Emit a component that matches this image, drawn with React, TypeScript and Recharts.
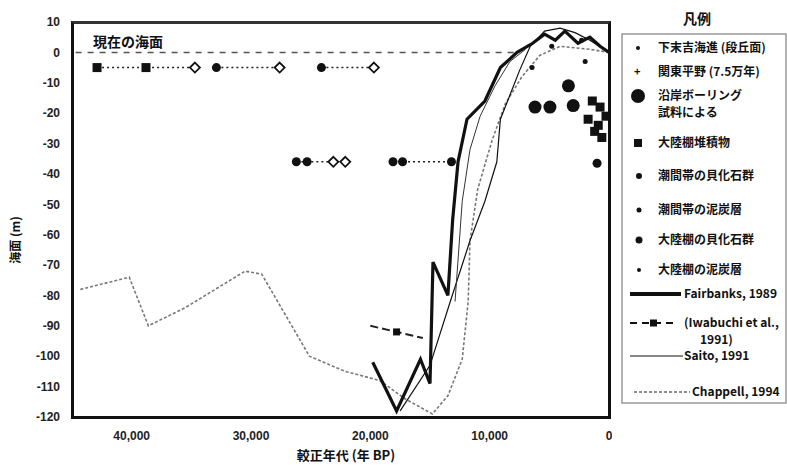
import React from 'react';
import { ComposedChart, Line, Scatter, XAxis, YAxis } from 'recharts';

type Pt = { age: number; m: number };

const AGE_TICKS = [40000, 30000, 20000, 10000, 0];
const LEVEL_TICKS = [10, 0, -10, -20, -30, -40, -50, -60, -70, -80, -90, -100, -110, -120];

// present sea level (dashed reference)
const presentSea: Pt[] = [{ age: 44700, m: 0 }, { age: 7500, m: 0 }];

// Chappell, 1994 (gray dotted)
const chappell: Pt[] = [
  { age: 44300, m: -78 }, { age: 40200, m: -74 }, { age: 38600, m: -90 }, { age: 35500, m: -84 },
  { age: 30500, m: -72 }, { age: 29100, m: -73 }, { age: 25100, m: -100 }, { age: 22100, m: -105 },
  { age: 19200, m: -108 }, { age: 17100, m: -114 }, { age: 14800, m: -119 }, { age: 13500, m: -113 },
  { age: 12300, m: -101 }, { age: 11800, m: -82 }, { age: 11650, m: -62 }, { age: 11000, m: -45 },
  { age: 9800, m: -29 }, { age: 8700, m: -17 }, { age: 7300, m: -8 }, { age: 5800, m: -1 },
  { age: 4100, m: 2 }, { age: 1600, m: 1 }, { age: 0, m: 0 },
];

// Fairbanks, 1989 (thick black)
const fairbanks: Pt[] = [
  { age: 19800, m: -102 }, { age: 17800, m: -118 }, { age: 15800, m: -101 }, { age: 15000, m: -109 },
  { age: 14750, m: -69 }, { age: 13500, m: -80 }, { age: 13100, m: -55 }, { age: 12650, m: -36 },
  { age: 11900, m: -22 }, { age: 10400, m: -16 }, { age: 9100, m: -5 }, { age: 7700, m: 0 },
  { age: 6400, m: 3 }, { age: 5400, m: 6 }, { age: 4500, m: 4 }, { age: 3700, m: 7 },
  { age: 2600, m: 3 }, { age: 1600, m: 5 }, { age: 750, m: 2 }, { age: 0, m: 0 },
];

// Iwabuchi et al., 1991 (dash with squares)
const iwabuchi: Pt[] = [{ age: 20000, m: -90 }, { age: 15600, m: -94 }];
const iwabuchiMarks: Pt[] = [{ age: 17800, m: -92 }];

// Saito, 1991 (thin solid) and its upper envelope
const saito: Pt[] = [
  { age: 17500, m: -118 }, { age: 15000, m: -103 }, { age: 13300, m: -82 }, { age: 11650, m: -62 },
  { age: 10400, m: -49 }, { age: 9400, m: -36 }, { age: 9100, m: -22 }, { age: 8300, m: -14 },
  { age: 7500, m: -6 }, { age: 6600, m: 2 }, { age: 5400, m: 7 }, { age: 4100, m: 8 },
  { age: 2850, m: 6.5 }, { age: 1600, m: 4 }, { age: 0, m: 0 },
];
const saitoEnvelope: Pt[] = [
  { age: 12900, m: -82 }, { age: 12300, m: -49 }, { age: 11650, m: -32 }, { age: 10800, m: -21 },
  { age: 9550, m: -11 }, { age: 8300, m: -3 }, { age: 7000, m: 1 },
];

// marker rows with dotted ranges
const rowSquares: Pt[] = [{ age: 42900, m: -5 }, { age: 38800, m: -5 }];
const rowDiamonds: Pt[] = [
  { age: 34700, m: -5 }, { age: 27600, m: -5 }, { age: 19700, m: -5 },
  { age: 23100, m: -36 }, { age: 22100, m: -36 },
];
const rowDots: Pt[] = [
  { age: 32900, m: -5 }, { age: 24100, m: -5 },
  { age: 26200, m: -36 }, { age: 25300, m: -36 }, { age: 18100, m: -36 }, { age: 17300, m: -36 },
  { age: 13200, m: -36 }, { age: 1000, m: -36.5 },
];
const rangeA: Pt[] = [{ age: 42900, m: -5 }, { age: 34700, m: -5 }];
const rangeB: Pt[] = [{ age: 32900, m: -5 }, { age: 27600, m: -5 }];
const rangeC: Pt[] = [{ age: 24100, m: -5 }, { age: 19700, m: -5 }];
const rangeD: Pt[] = [{ age: 26200, m: -36 }, { age: 22100, m: -36 }];
const rangeE: Pt[] = [{ age: 18100, m: -36 }, { age: 13200, m: -36 }];

// boring samples (big dots) and shelf sediments (squares)
const boringDots: Pt[] = [
  { age: 6200, m: -18 }, { age: 4950, m: -18 }, { age: 3400, m: -11 }, { age: 3000, m: -17.5 },
];
const shelfSquares: Pt[] = [
  { age: 1400, m: -16 }, { age: 750, m: -18 }, { age: 1750, m: -22 }, { age: 900, m: -24 },
  { age: 250, m: -21 }, { age: 600, m: -28 }, { age: 1200, m: -26 },
];
const smallDots: Pt[] = [{ age: 6450, m: -5 }, { age: 2000, m: -3 }, { age: 4800, m: 2 }, { age: 2300, m: 4 }];

const LEGEND_TITLE = '凡例';
const LEGEND_MARKERS = [
  ['下末吉海進 (段丘面)'],
  ['関東平野 (7.5万年)'],
  ['沿岸ボーリング', '試料による'],
  ['大陸棚堆積物'],
  ['潮間帯の貝化石群'],
  ['潮間帯の泥炭層'],
  ['大陸棚の貝化石群'],
  ['大陸棚の泥炭層'],
];
const LEGEND_LINES = [
  ['Fairbanks, 1989'],
  ['(Iwabuchi et al.,', '1991)'],
  ['Saito, 1991'],
  ['Chappell, 1994'],
];

const NOTE = '現在の海面';
const X_TITLE = '較正年代 (年 BP)';
const Y_TITLE = '海面 (m)';

const INK = '#111';

const square = (s: number) => (p: any) => (
  <rect x={p.cx - s / 2} y={p.cy - s / 2} width={s} height={s} fill={INK} />
);
const dot = (r: number) => (p: any) => <circle cx={p.cx} cy={p.cy} r={r} fill={INK} />;
const diamond = (p: any) => (
  <polygon
    points={`${p.cx},${p.cy - 5} ${p.cx + 5},${p.cy} ${p.cx},${p.cy + 5} ${p.cx - 5},${p.cy}`}
    fill="#fff"
    stroke={INK}
    strokeWidth={1.8}
  />
);

const fmt = (v: number) => v.toLocaleString('en-US');

function Overlay() {
  const markerY = [48, 72, 96, 143, 176, 210, 240, 270];
  const lineY = [294, 323, 356, 392];
  const txt = { fontFamily: '"Noto Sans CJK JP", sans-serif', fontSize: 12, fontWeight: 700, fill: INK };
  const markers = [
    <circle cx={638} cy={48} r={2} fill={INK} />,
    <text x={634} y={76} style={{ ...txt, fontSize: 11 }}>+</text>,
    <circle cx={638} cy={96} r={7} fill={INK} />,
    <rect x={634} y={139} width={8} height={8} fill={INK} />,
    <circle cx={639} cy={176} r={3} fill={INK} />,
    <circle cx={639} cy={210} r={2.5} fill={INK} />,
    <circle cx={639} cy={240} r={3.5} fill={INK} />,
    <circle cx={639} cy={270} r={2} fill={INK} />,
  ];
  return (
    <svg width={787} height={465} style={{ position: 'absolute', left: 0, top: 0, pointerEvents: 'none' }}>
      <rect x={622} y={34} width={164} height={369} fill="none" stroke="#999" strokeWidth={1.5} />
      <text x={697} y={24} textAnchor="middle" style={{ ...txt, fontSize: 14 }}>{LEGEND_TITLE}</text>
      {LEGEND_MARKERS.map((lines, i) => (
        <g key={i}>
          {markers[i]}
          {lines.map((t, j) => (
            <text key={j} x={658} y={markerY[i] + 4 + j * 17} style={txt}>{t}</text>
          ))}
        </g>
      ))}
      <line x1={630} y1={lineY[0]} x2={681} y2={lineY[0]} stroke={INK} strokeWidth={4} />
      <line x1={630} y1={lineY[1]} x2={676} y2={lineY[1]} stroke={INK} strokeWidth={2} strokeDasharray="7 5" />
      <rect x={650} y={lineY[1] - 3.5} width={7} height={7} fill={INK} />
      <line x1={630} y1={lineY[2]} x2={683} y2={lineY[2]} stroke={INK} strokeWidth={1.2} />
      <line x1={634} y1={lineY[3]} x2={690} y2={lineY[3]} stroke="#666" strokeWidth={1.5} strokeDasharray="3 2" />
      {LEGEND_LINES.map((lines, i) => (
        <g key={i}>
          {lines.map((t, j) => (
            <text key={j} x={j === 0 ? (i === 3 ? 692 : 684) : 700} y={lineY[i] + 4 + j * 17} style={txt}>{t}</text>
          ))}
        </g>
      ))}
      <text x={93} y={47} style={{ ...txt, fontSize: 14 }}>{NOTE}</text>
      <text x={346} y={460} textAnchor="middle" style={{ ...txt, fontSize: 13 }}>{X_TITLE}</text>
      <text x={20} y={240} textAnchor="middle" transform="rotate(-90 20 240)" style={{ ...txt, fontSize: 12 }}>{Y_TITLE}</text>
    </svg>
  );
}

export default function App() {
  const tickStyle = { fontFamily: '"Liberation Sans", Arial, sans-serif', fontSize: 12, fontWeight: 700, fill: '#222' };
  return (
    <div style={{ position: 'absolute', left: 0, top: 0, width: 787, height: 465, background: '#fff' }}>
      <ComposedChart width={612} height={465} margin={{ top: 22, right: 3, left: 0, bottom: 18 }}>
        <XAxis
          dataKey="age"
          type="number"
          reversed
          domain={[0, 45000]}
          ticks={AGE_TICKS}
          tickFormatter={fmt}
          height={30}
          axisLine={false}
          tickLine={false}
          tickMargin={8}
          tick={tickStyle}
        />
        <YAxis
          dataKey="m"
          type="number"
          domain={[-120, 10]}
          ticks={LEVEL_TICKS}
          width={72}
          axisLine={false}
          tickLine={false}
          tickMargin={6}
          tick={tickStyle}
          interval={0}
        />
        <Line data={presentSea} dataKey="m" stroke="#555" strokeWidth={1.5} strokeDasharray="6 6" dot={false} isAnimationActive={false} />
        <Line data={chappell} dataKey="m" stroke="#777" strokeWidth={1.6} strokeDasharray="3 2" dot={false} isAnimationActive={false} />
        <Line data={saito} dataKey="m" stroke={INK} strokeWidth={1.2} dot={false} isAnimationActive={false} />
        <Line data={saitoEnvelope} dataKey="m" stroke="#333" strokeWidth={1} dot={false} isAnimationActive={false} />
        <Line data={iwabuchi} dataKey="m" stroke="#222" strokeWidth={2} strokeDasharray="8 4" dot={false} isAnimationActive={false} />
        <Line data={fairbanks} dataKey="m" stroke={INK} strokeWidth={3.2} dot={false} isAnimationActive={false} />
        {[rangeA, rangeB, rangeC, rangeD, rangeE].map((r, i) => (
          <Line key={i} data={r} dataKey="m" stroke="#222" strokeWidth={1.5} strokeDasharray="2 3" dot={false} isAnimationActive={false} />
        ))}
        <Scatter data={iwabuchiMarks} dataKey="m" shape={square(7)} isAnimationActive={false} />
        <Scatter data={rowSquares} dataKey="m" shape={square(9)} isAnimationActive={false} />
        <Scatter data={rowDots} dataKey="m" shape={dot(4.5)} isAnimationActive={false} />
        <Scatter data={rowDiamonds} dataKey="m" shape={diamond} isAnimationActive={false} />
        <Scatter data={boringDots} dataKey="m" shape={dot(6.5)} isAnimationActive={false} />
        <Scatter data={shelfSquares} dataKey="m" shape={square(9)} isAnimationActive={false} />
        <Scatter data={smallDots} dataKey="m" shape={dot(2.5)} isAnimationActive={false} />
      </ComposedChart>
      {/* plot frame */}
      <div
        style={{
          position: 'absolute',
          left: 70.5,
          top: 20.5,
          width: 540,
          height: 398,
          boxSizing: 'border-box',
          borderStyle: 'solid',
          borderColor: '#333 #111 #111 #111',
          borderWidth: 3,
          pointerEvents: 'none',
        }}
      />
      <Overlay />
    </div>
  );
}
